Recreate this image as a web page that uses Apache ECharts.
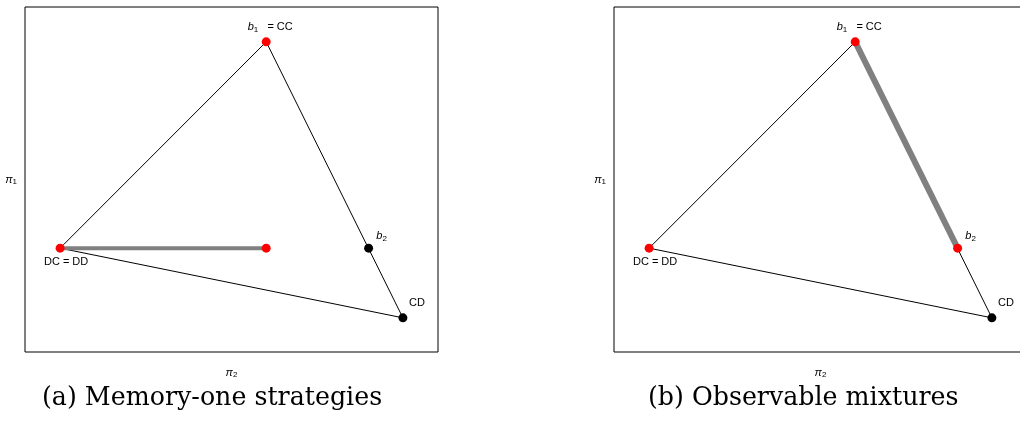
<!DOCTYPE html>
<html>
<head>
<meta charset="utf-8">
<script src="https://cdn.jsdelivr.net/npm/echarts@6/dist/echarts.min.js"></script>
<style>
  html, body { margin: 0; padding: 0; background: #fff; overflow: hidden; }
  #chart { width: 1030px; height: 421px; }
</style>
</head>
<body>
<div id="chart"></div>
<script>
// Simplex vertices in the (pi2, pi1) payoff plane
const vertexNames = ['CC', 'CD', 'DD'];
const vertexX = [0.584, 0.915, 0.085];
const vertexY = [0.899, 0.099, 0.301];
// b2 lies on the CC–CD edge
const b2Point = [0.832, 0.301];
// panel (a): memory-one segment from DD to this end point
const memoryOneEnd = [0.584, 0.301];
const captions = ['(a) Memory-one strategies', '(b) Observable mixtures'];

const CC = [vertexX[0], vertexY[0]];
const CD = [vertexX[1], vertexY[1]];
const DD = [vertexX[2], vertexY[2]];

const RED = '#ff0000';
const BLACK = '#000000';
const GREY = '#808080';
const SANS = 'Liberation Sans';
const SERIF = 'DejaVu Serif';

const rich = {
  it: { fontFamily: SANS, fontStyle: 'italic', fontSize: 11, color: '#000' },
  sub: { fontFamily: SANS, fontSize: 8, color: '#000', padding: [5, 0, 0, 0] },
  n: { fontFamily: SANS, fontSize: 11, color: '#000' }
};

const grids = [
  { left: 25, top: 7, width: 413, height: 345 },
  { left: 614, top: 7, width: 413, height: 345 }
];

function axisPair(i) {
  const x = {
    type: 'value', gridIndex: i, min: 0, max: 1,
    name: '{it|π}{sub|2}', nameLocation: 'middle', nameGap: 14,
    nameTextStyle: { rich: rich },
    axisLine: { show: false }, axisTick: { show: false },
    axisLabel: { show: false }, splitLine: { show: false }
  };
  const y = {
    type: 'value', gridIndex: i, min: 0, max: 1,
    name: '{it|π}{sub|1}', nameLocation: 'middle', nameGap: 8, nameRotate: 0,
    nameTextStyle: { rich: rich },
    axisLine: { show: false }, axisTick: { show: false },
    axisLabel: { show: false }, splitLine: { show: false }
  };
  return [x, y];
}

const axes = [axisPair(0), axisPair(1)];

function triangle(i) {
  return {
    type: 'line', xAxisIndex: i, yAxisIndex: i, symbol: 'none',
    lineStyle: { color: BLACK, width: 1 }, z: 2, silent: true,
    data: [CC, CD, DD, CC]
  };
}

function segment(i, a, b, w) {
  return {
    type: 'line', xAxisIndex: i, yAxisIndex: i, symbol: 'none',
    lineStyle: { color: GREY, width: w, cap: 'butt' }, z: 3, silent: true,
    data: [a, b]
  };
}

function pointLabel(kind) {
  const base = { show: true, rich: rich, fontFamily: SANS, fontSize: 11, color: '#000' };
  if (kind === 'CC') return Object.assign(base, { position: 'top', distance: 4, offset: [4, 0], formatter: '{it|b}{sub|1}{n|   = CC}' });
  if (kind === 'DD') return Object.assign(base, { position: 'bottom', distance: 4, offset: [6, 0], formatter: '{n|DC = DD}' });
  if (kind === 'CD') return Object.assign(base, { position: 'inside', offset: [14, -15], formatter: '{n|CD}' });
  if (kind === 'b2') return Object.assign(base, { position: 'inside', offset: [13, -12], formatter: '{it|b}{sub|2}' });
  return { show: false };
}

function points(i, list) {
  return {
    type: 'scatter', xAxisIndex: i, yAxisIndex: i, symbolSize: 9, z: 5, silent: true,
    data: list.map(p => ({
      value: p.v,
      itemStyle: { color: p.c, opacity: 1 },
      label: pointLabel(p.k)
    }))
  };
}

const captionStyle = { fontFamily: SERIF, fontWeight: 'normal', fontSize: 25.3, color: '#000' };

const option = {
  animation: false,
  backgroundColor: '#fff',
  grid: grids.map(g => Object.assign({ show: true, borderColor: '#000', borderWidth: 1, backgroundColor: 'transparent' }, g)),
  xAxis: [axes[0][0], axes[1][0]],
  yAxis: [axes[0][1], axes[1][1]],
  title: [
    { text: captions[0], left: 42, top: 386, padding: 0, textStyle: captionStyle },
    { text: captions[1], left: 648, top: 386, padding: 0, textStyle: captionStyle }
  ],
  series: [
    triangle(0),
    segment(0, DD, memoryOneEnd, 4),
    points(0, [
      { v: CC, c: RED, k: 'CC' },
      { v: DD, c: RED, k: 'DD' },
      { v: memoryOneEnd, c: RED, k: '' },
      { v: b2Point, c: BLACK, k: 'b2' },
      { v: CD, c: BLACK, k: 'CD' }
    ]),
    triangle(1),
    segment(1, CC, b2Point, 6),
    points(1, [
      { v: CC, c: RED, k: 'CC' },
      { v: DD, c: RED, k: 'DD' },
      { v: b2Point, c: RED, k: 'b2' },
      { v: CD, c: BLACK, k: 'CD' }
    ])
  ]
};

const chart = echarts.init(document.getElementById('chart'), null, { renderer: 'canvas' });
chart.setOption(option);
</script>
</body>
</html>
